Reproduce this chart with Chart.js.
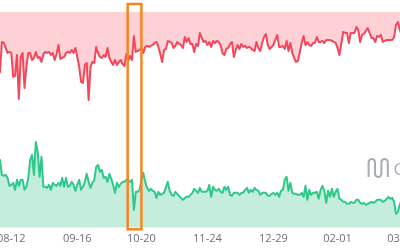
<!DOCTYPE html>
<html>
<head>
<meta charset="utf-8">
<script src="https://cdn.jsdelivr.net/npm/chart.js@4.4.1/dist/chart.umd.min.js"></script>
<style>
  html, body { margin: 0; padding: 0; background: #fff; }
  #wrap { position: relative; width: 400px; height: 250px; overflow: hidden; }
  #chart { position: absolute; left: -10px; top: 0; }
</style>
</head>
<body>
<div id="wrap"><canvas id="chart" width="430" height="250"></canvas></div>
<script>
// one value per day, first value is 12 days before 08-12
const firstDay = -12;

const shortValues = [
  178, 173, 180, 176, 168, 153, 156, 186, 185, 180,
  175, 176, 175, 151, 152, 173, 129, 171, 175, 140,
  161, 175, 175, 168, 170, 176, 170, 171, 166, 174,
  176, 175, 176, 173, 175, 168, 174, 183, 169, 170,
  171, 175, 176, 175, 178, 175, 180, 171, 161, 146,
  145, 163, 165, 128, 161, 166, 165, 181, 175, 171,
  170, 173, 171, 180, 170, 166, 163, 168, 163, 166,
  168, 164, 162, 174, 167, 172, 168, 192, 176, 177,
  178, 180, 175, 181, 182, 181, 182, 183, 185, 186,
  181, 174, 166, 178, 179, 187, 186, 185, 180, 182,
  186, 184, 183, 180, 191, 186, 190, 184, 184, 176,
  184, 182, 195, 190, 186, 187, 183, 186, 181, 187,
  185, 187, 186, 183, 175, 173, 179, 180, 184, 186,
  171, 178, 183, 179, 184, 181, 182, 180, 181, 180,
  178, 177, 186, 180, 177, 185, 191, 194, 183, 179,
  181, 183, 188, 193, 181, 181, 182, 179, 187, 177,
  185, 175, 170, 166, 167, 176, 185, 192, 183, 186,
  183, 182, 185, 185, 191, 186, 186, 187, 185, 188,
  188, 188, 187, 186, 185, 180, 173, 184, 196, 195,
  195, 185, 195, 195, 195, 201, 198, 186, 193, 194,
  197, 200, 195, 190, 190, 186, 192, 191, 193, 186,
  187, 188, 188, 188, 188, 191, 203, 206, 198, 193,
  188, 190, 192, 188, 186, 190, 188, 187
];

const longValues = [
  53, 48, 58, 50, 56, 63, 68, 53, 52, 53,
  50, 42, 43, 45, 38, 48, 42, 48, 48, 38,
  41, 50, 68, 73, 53, 86, 76, 51, 71, 41,
  41, 40, 43, 38, 45, 43, 42, 45, 42, 50,
  41, 50, 41, 42, 46, 43, 37, 43, 48, 38,
  41, 46, 54, 46, 40, 45, 48, 61, 63, 56,
  58, 50, 51, 46, 54, 49, 43, 35, 45, 41,
  44, 46, 46, 48, 48, 46, 48, 18, 36, 36,
  38, 48, 55, 46, 40, 37, 39, 37, 36, 30,
  36, 33, 34, 35, 41, 46, 37, 33, 32, 36,
  34, 32, 30, 28, 30, 31, 31, 33, 35, 39,
  37, 35, 40, 36, 36, 36, 37, 43, 31, 41,
  38, 37, 39, 36, 35, 41, 38, 41, 33, 32,
  35, 35, 35, 33, 35, 35, 38, 40, 35, 38,
  36, 40, 38, 37, 33, 35, 35, 35, 32, 32,
  34, 35, 33, 35, 31, 37, 38, 48, 51, 37,
  45, 35, 34, 34, 33, 33, 35, 31, 42, 28,
  38, 33, 35, 35, 36, 29, 38, 42, 37, 25,
  37, 31, 39, 31, 36, 39, 29, 28, 26, 26,
  24, 24, 26, 25, 25, 28, 28, 25, 24, 25,
  23, 24, 25, 26, 25, 26, 28, 28, 28, 26,
  27, 29, 31, 29, 30, 26, 14, 16, 23, 28,
  30, 26, 28, 30, 27, 25, 28, 29
];

const tickDays = [0, 35, 69, 104, 139, 173, 207];
const tickLabels = ['08-12', '09-16', '10-20', '11-24', '12-29', '02-01', '03-06'];
const highlightDays = [61.7, 69];

const toPoints = arr => arr.map((v, i) => ({ x: firstDay + i, y: v }));

const extras = {
  id: 'extras',
  beforeDatasetsDraw(chart) {
    const ctx = chart.ctx, a = chart.chartArea;
    const x0 = a.right - 47, y0 = a.top + 147, r = 3.2, h = 18;
    ctx.save();
    ctx.strokeStyle = '#a7abb4';
    ctx.lineWidth = 2;
    ctx.beginPath();
    ctx.moveTo(x0, y0 + h);
    ctx.lineTo(x0, y0 + r);
    ctx.arc(x0 + r, y0 + r, r, Math.PI, 0);
    ctx.lineTo(x0 + 2 * r, y0 + h - r);
    ctx.arc(x0 + 3 * r, y0 + h - r, r, Math.PI, 0, true);
    ctx.lineTo(x0 + 4 * r, y0 + r);
    ctx.arc(x0 + 5 * r, y0 + r, r, Math.PI, 0);
    ctx.lineTo(x0 + 6 * r, y0 + h);
    ctx.stroke();
    ctx.fillStyle = '#a7abb4';
    ctx.font = '17px "Open Sans"';
    ctx.textBaseline = 'alphabetic';
    ctx.fillText('CoinGlass', a.right - 22, a.top + 163);
    ctx.restore();
  },
  afterDatasetsDraw(chart) {
    const ctx = chart.ctx, a = chart.chartArea, xs = chart.scales.x;
    const x1 = xs.getPixelForValue(highlightDays[0]);
    const x2 = xs.getPixelForValue(highlightDays[1]);
    ctx.save();
    ctx.strokeStyle = '#f7861e';
    ctx.lineWidth = 2.5;
    ctx.strokeRect(x1, 4, x2 - x1, a.bottom + 1.5 - 4);
    ctx.restore();
  }
};

new Chart(document.getElementById('chart').getContext('2d'), {
  type: 'line',
  data: {
    datasets: [
      {
        data: toPoints(shortValues),
        borderColor: '#f4475b',
        backgroundColor: 'rgba(246, 70, 93, 0.25)',
        borderWidth: 2,
        borderJoinStyle: 'round',
        fill: 'end'
      },
      {
        data: toPoints(longValues),
        borderColor: '#2ec98a',
        backgroundColor: 'rgba(46, 189, 133, 0.28)',
        borderWidth: 2,
        borderJoinStyle: 'round',
        fill: 'start'
      }
    ]
  },
  options: {
    responsive: false,
    animation: false,
    devicePixelRatio: 1,
    layout: { padding: { top: 12, bottom: 1, left: 0, right: 0 } },
    plugins: { legend: { display: false }, tooltip: { enabled: false } },
    elements: { point: { radius: 0 }, line: { tension: 0 } },
    scales: {
      x: {
        type: 'linear',
        min: -11.3,
        max: 214.4,
        afterBuildTicks: s => { s.ticks = tickDays.map(v => ({ value: v })); },
        grid: { display: false, drawTicks: false },
        border: { display: false },
        ticks: {
          autoSkip: false,
          maxRotation: 0,
          padding: 4,
          color: '#6e7079',
          font: { family: 'Open Sans', size: 11 },
          callback: v => tickLabels[tickDays.indexOf(v)]
        }
      },
      y: { display: false, min: 0, max: 216 }
    }
  },
  plugins: [extras]
});
</script>
</body>
</html>
